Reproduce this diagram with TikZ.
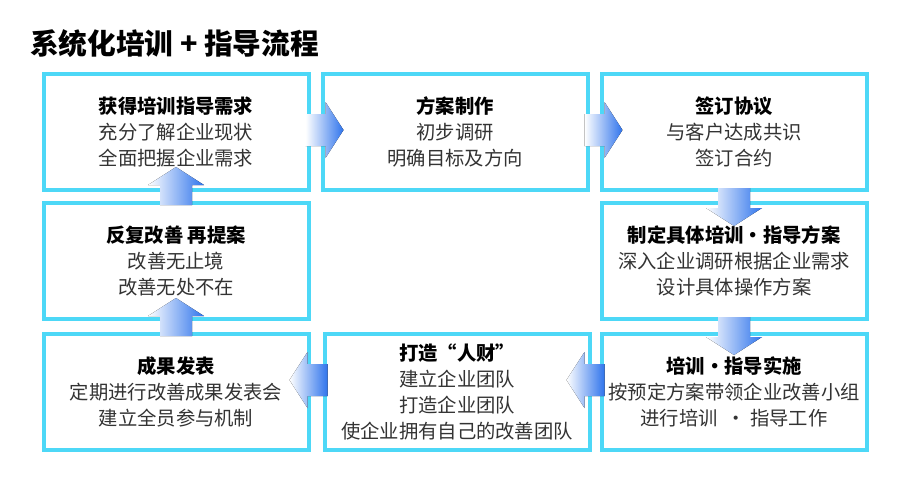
\documentclass[tikz,border=0pt]{standalone}
\usepackage{fontspec}
\setmainfont{Noto Sans CJK SC}
\usetikzlibrary{calc}
\definecolor{boxcyan}{HTML}{4DD8F7}
\definecolor{arrowblue}{HTML}{2F74EC}
\definecolor{bodygray}{HTML}{333333}
\tikzset{
  stagebox/.style={draw=boxcyan, line width=4*0.03cm, fill=white,
    minimum width=265*0.03cm, minimum height=116*0.03cm,
    align=center, font=\fontsize{16.5}{22}\selectfont, text=bodygray, inner sep=0pt},
}
% block arrow: start point, direction
\newcommand{\flowarrow}[2]{%
  \begin{scope}[shift={#1}, rotate=#2]
    \fill[left color=white, right color=arrowblue]
      (0,-16) -- (20,-16) -- (20,-28) -- (38,0) -- (20,28) -- (20,16) -- (0,16) -- cycle;
  \end{scope}}
\newcommand{\stagehead}[1]{{\bfseries\color{black}#1}}
\begin{document}
\begin{tikzpicture}[x=0.03cm, y=-0.03cm]
  \useasboundingbox (0,0) rectangle (900,500);
  \node[anchor=west, font=\fontsize{24.5}{26}\selectfont\bfseries] (title) at (26,44) {系统化培训 + 指导流程};

  \node[stagebox] (need) at (176,132) {\stagehead{获得培训指导需求}\\充分了解企业现状\\全面把握企业需求};
  \node[stagebox] (plan) at (455,132) {\stagehead{方案制作}\\初步调研\\明确目标及方向};
  \node[stagebox] (sign) at (734,132) {\stagehead{签订协议}\\与客户达成共识\\签订合约};
  \node[stagebox] (repeat) at (176,261) {\stagehead{反复改善 再提案}\\改善无止境\\改善无处不在};
  \node[stagebox] (detail) at (734,261) {\stagehead{制定具体培训・指导方案}\\深入企业调研根据企业需求\\设计具体操作方案};
  \node[stagebox] (result) at (176,392) {\stagehead{成果发表}\\定期进行改善成果发表会\\建立全员参与机制};
  \node[stagebox] (talent) at (457,392) {\stagehead{打造“人财”}\\建立企业团队\\打造企业团队\\使企业拥有自己的改善团队};
  \node[stagebox] (train) at (734,392) {\stagehead{培训・指导实施}\\按预定方案带领企业改善小组\\进行培训\ \ ・\ 指导工作};

  \flowarrow{($(need.east)+(-5,-2)$)}{0}
  \flowarrow{($(plan.east)+(-5,-2)$)}{0}
  \flowarrow{($(sign.south)+(0,-4)$)}{-90}
  \flowarrow{($(detail.south)+(0,-4)$)}{-90}
  \flowarrow{($(train.west)+(5,-12)$)}{180}
  \flowarrow{($(talent.west)+(5,-12)$)}{180}
  \flowarrow{($(result.north)+(0,4)$)}{90}
  \flowarrow{($(repeat.north)+(0,4)$)}{90}
\end{tikzpicture}
\end{document}
